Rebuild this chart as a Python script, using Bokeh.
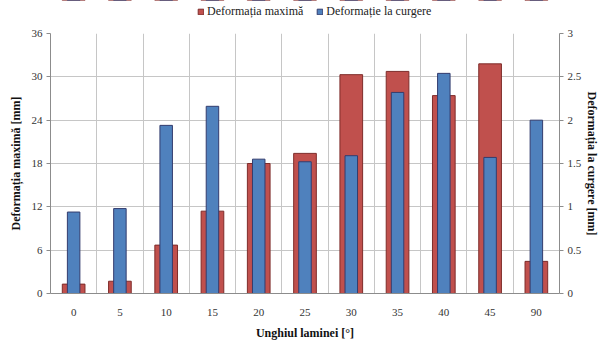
from bokeh.plotting import figure
from bokeh.layouts import column
from bokeh.models import (Range1d, LinearAxis, FactorRange, FixedTicker, Legend,
                          LegendItem)
from bokeh.embed import file_html
from bokeh.resources import INLINE

# ---- data ----
angles = ["0", "5", "10", "15", "20", "25", "30", "35", "40", "45", "90"]
def_max = [1.3, 1.7, 6.7, 11.4, 18.0, 19.4, 30.3, 30.75, 27.4, 31.8, 4.45]
def_curgere = [0.94, 0.98, 1.94, 2.16, 1.55, 1.52, 1.59, 2.32, 2.54, 1.57, 2.0]
left_ticks = [0, 6, 12, 18, 24, 30, 36]
right_ticks = [0, 0.5, 1, 1.5, 2, 2.5, 3]
name_max = "Deformația maximă"
name_curgere = "Deformație la curgere"
title_left = "Deformația maximă [mm]"
title_right = "Deformația la curgere [mm]"
title_x = "Unghiul laminei [°]"

SERIF = "Liberation Serif"
RED, RED_LINE = "#C0504D", "#7E2C2A"
BLUE, BLUE_LINE = "#4F81BD", "#333C6E"
GRID = "#C6C6C6"
W, H_LEG, H_MAIN = 602, 25, 320

# ---------- main chart ----------
p = figure(width=W, height=H_MAIN, x_range=FactorRange(*angles),
           y_range=Range1d(0, 36), output_backend="svg", toolbar_location=None,
           min_border_left=50, min_border_right=40, min_border_top=8,
           min_border_bottom=52)
p.extra_y_ranges = {"right": Range1d(0, 3)}
p.outline_line_color = None

r1 = p.vbar(x=angles, top=def_max, width=0.49, fill_color=RED,
            line_color=RED_LINE, line_width=1)
r2 = p.vbar(x=angles, top=def_curgere, width=0.27, y_range_name="right",
            fill_color=BLUE, line_color=BLUE_LINE, line_width=1)

p.xgrid.ticker = FixedTicker(ticks=list(range(0, len(angles) + 1)))
p.xgrid.grid_line_color = GRID
p.ygrid.grid_line_color = GRID

def style_axis(ax, label):
    ax.axis_label = label
    ax.axis_line_color = "#8C8C8C"
    ax.major_tick_line_color = "#8C8C8C"
    ax.minor_tick_line_color = None
    ax.major_tick_in = 0
    ax.major_label_text_font = SERIF
    ax.major_label_text_font_size = "11px"
    ax.major_label_text_color = "#333333"
    ax.axis_label_text_font = SERIF
    ax.axis_label_text_font_size = "12px"
    ax.axis_label_text_font_style = "bold"
    ax.axis_label_text_color = "#111111"

ly = p.yaxis[0]
ly.ticker = FixedTicker(ticks=left_ticks)
style_axis(ly, title_left)
ly.major_tick_out = 4
ly.major_label_standoff = 4
ly.axis_label_standoff = 6

ry = LinearAxis(y_range_name="right", ticker=FixedTicker(ticks=right_ticks))
ry.major_label_overrides = {t: f"{t:g}" for t in right_ticks}
style_axis(ry, title_right)
ry.major_tick_out = 4
ry.major_label_standoff = 4
ry.axis_label_standoff = 1
p.add_layout(ry, "right")

xa = p.xaxis[0]
style_axis(xa, title_x)
xa.major_tick_out = 0
xa.major_label_standoff = 15
xa.axis_label_standoff = 7

# ---------- legend strip (keys drawn from the same data, kept far out of view) ----------
lg = figure(width=W, height=H_LEG, x_range=FactorRange(*angles),
            y_range=Range1d(-1001, -1000), output_backend="svg",
            toolbar_location=None, x_axis_location=None, y_axis_location=None,
            min_border=0)
lg.outline_line_color = None
lg.grid.visible = False
k1 = lg.vbar(x=angles, top=def_max, width=0.49, fill_color=RED,
             line_color=RED_LINE, line_width=1)
k2 = lg.vbar(x=angles, top=def_curgere, width=0.27, fill_color=BLUE,
             line_color=BLUE_LINE, line_width=1)
legend = Legend(items=[LegendItem(label=name_max, renderers=[k1]),
                       LegendItem(label=name_curgere, renderers=[k2])],
                orientation="horizontal", location=(147, 6),
                glyph_width=7, glyph_height=7, label_height=12,
                label_standoff=3, spacing=13, padding=0, margin=0,
                border_line_color=None, background_fill_alpha=0,
                label_text_font=SERIF, label_text_font_size="12px",
                label_text_color="#222222")
lg.add_layout(legend, "center")

layout = column(lg, p, spacing=0)
open("out.html", "w").write(file_html(layout, INLINE))
